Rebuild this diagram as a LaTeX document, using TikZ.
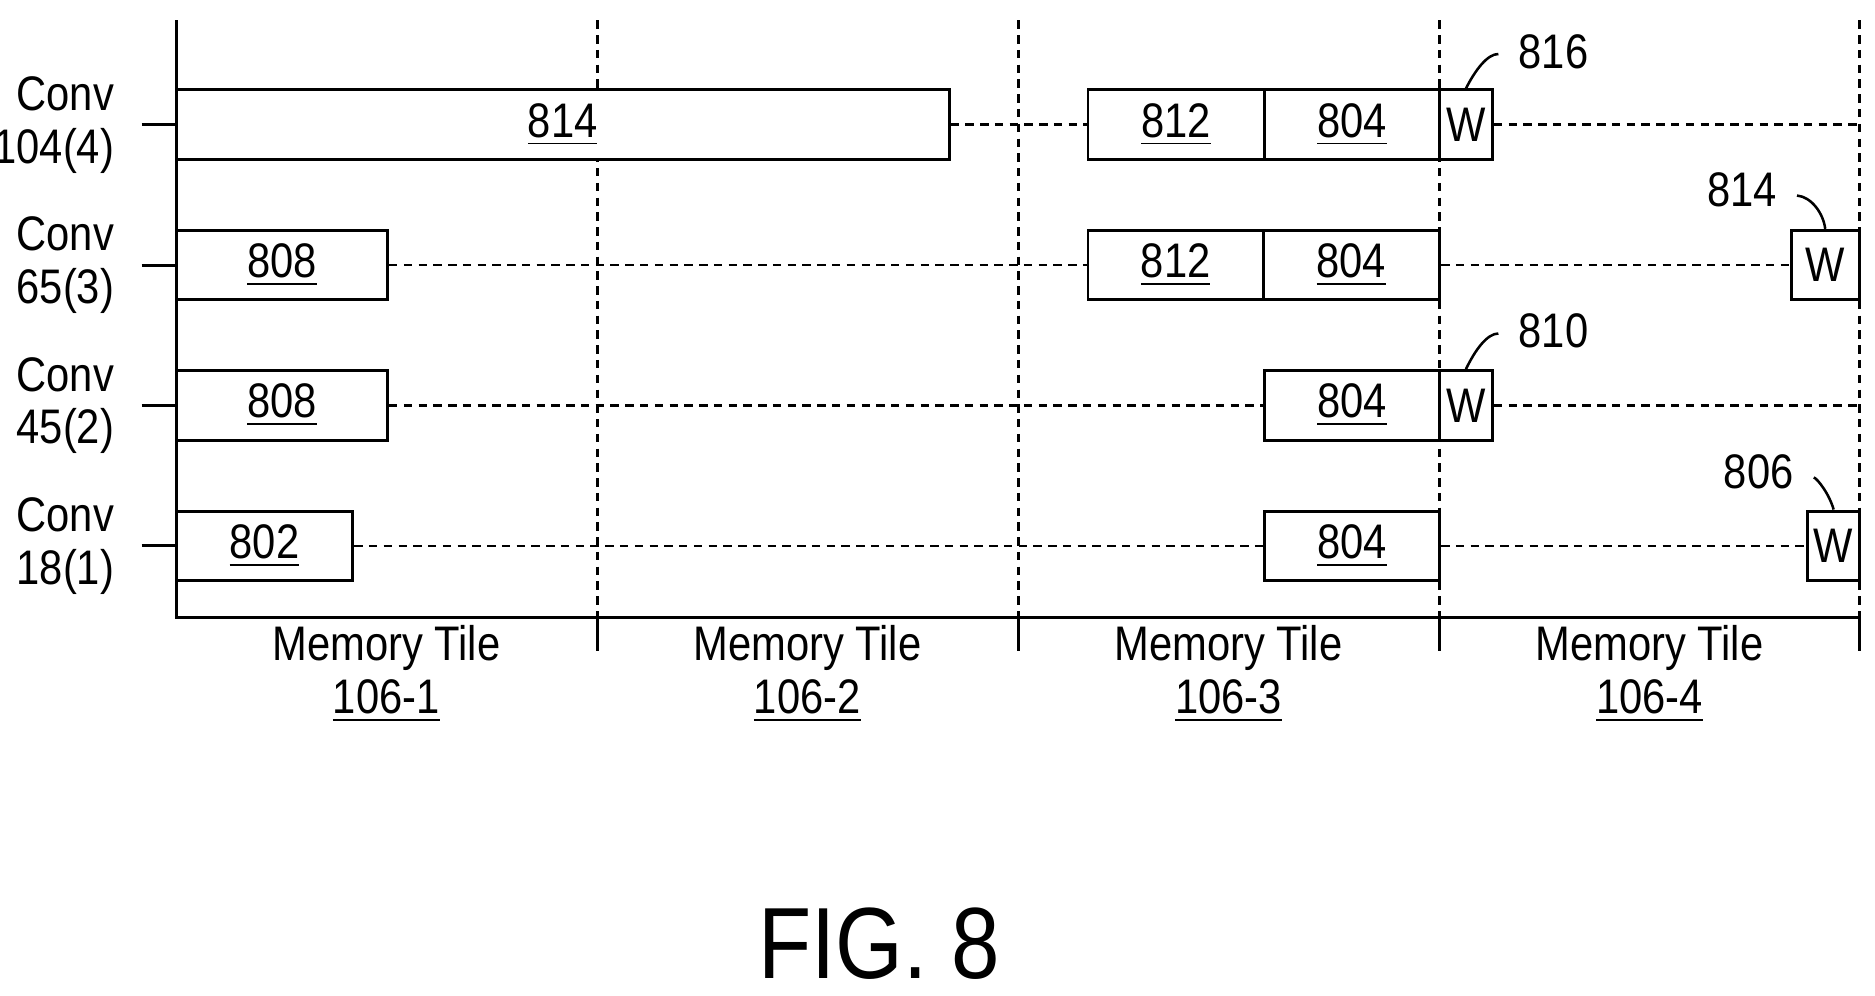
\documentclass[tikz,border=0pt]{standalone}
\usepackage{fontspec}
\setmainfont[FakeStretch=0.86]{Liberation Sans}
\usetikzlibrary{positioning}
\begin{document}
\begin{tikzpicture}[
		x=0.01cm, y=-0.01cm,
		line width=0.7pt,
		blok/.style={draw, fill=white, minimum height=0.58cm, inner sep=0pt, font=\fontsize{11.5}{13}\selectfont},
		punti/.style={line width=0.6pt, dash pattern=on 2pt off 1.5pt},
		etich/.style={font=\fontsize{11.5}{13.5}\selectfont, align=center},
		guida/.style={line width=0.6pt}
	]
	\useasboundingbox (0,0) rectangle (1563,830);
	
	% --- Assi ---
	\coordinate (top) at (147,17);
	\coordinate (O) at (147,515);
	\coordinate (end) at (1550,515);
	\foreach \x in {498,849,1200,1550} {
		\draw[punti] (\x,17) -- (\x,515);
		\draw (\x,515) -- (\x,543);
	}
	
	% --- Etichette tile ---
	\foreach \x/\n in {322/1,673/2,1024/3,1375/4}
		\node[etich] (t\n) at (\x,562) {Memory Tile\\[-1pt]\underline{106-\n}};
	
	% --- Righe ---
	\foreach \y/\c in {104/{104(4)},221/{65(3)},338/{45(2)},455/{18(1)}} {
		\draw (118,\y) -- (147,\y);
		\node[etich, left, align=right] at (108,\y) {Conv\\[-1pt]\c};
	}
	
	% riga 4
	\node[blok, minimum width=6.44cm] (a814) at (469,104) {\underline{814}};
	\node[blok, minimum width=1.47cm] (a812) at (980.5,104) {\underline{812}};
	\node[blok, minimum width=1.46cm] (a804) at (1127,104) {\underline{804}};
	\node[blok, minimum width=0.44cm] (aW) at (1222,104) {W};
	\coordinate (aE) at (1550,104);
	\draw[punti] (a814.east) -- (a812.west);
	\draw[punti] (aW.east) -- (aE);
	
	% riga 3
	\node[blok, minimum width=1.76cm] (b808) at (235,221) {\underline{808}};
	\node[blok, minimum width=1.46cm] (b812) at (980,221) {\underline{812}};
	\node[blok, minimum width=1.47cm] (b804) at (1126.5,221) {\underline{804}};
	\node[blok, minimum width=0.57cm] (bW) at (1521.5,221) {W};
	\draw[punti] (b808.east) -- (b812.west);
	\draw[punti] (b804.east) -- (bW.west);
	
	% riga 2
	\node[blok, minimum width=1.76cm] (c808) at (235,338) {\underline{808}};
	\node[blok, minimum width=1.46cm] (c804) at (1127,338) {\underline{804}};
	\node[blok, minimum width=0.44cm] (cW) at (1222,338) {W};
	\coordinate (cE) at (1550,338);
	\draw[punti] (c808.east) -- (c804.west);
	\draw[punti] (cW.east) -- (cE);
	
	% riga 1
	\node[blok, minimum width=1.47cm] (d802) at (220.5,455) {\underline{802}};
	\node[blok, minimum width=1.46cm] (d804) at (1127,455) {\underline{804}};
	\node[blok, minimum width=0.43cm] (dW) at (1528.5,455) {W};
	\draw[punti] (d802.east) -- (d804.west);
	\draw[punti] (d804.east) -- (dW.west);
	
	\draw (top) -- (O) -- (end);
	
	% --- Riferimenti W ---
	\node[etich] (r816) at (1295,43) {816};
	\node[etich] (r814) at (1452,158) {814};
	\node[etich] (r810) at (1295,276) {810};
	\node[etich] (r806) at (1466,393) {806};
	\draw[guida] (r816.west) ++(-4,2) .. controls (1240,45) and (1230,58) .. (aW.north);
	\draw[guida] (r814.east) ++(4,5) .. controls (1510,164) and (1520,178) .. (bW.north);
	\draw[guida] (r810.west) ++(-4,2) .. controls (1240,278) and (1230,291) .. (cW.north);
	\draw[guida] (r806.east) ++(4,5) .. controls (1515,399) and (1525,412) .. (dW.north);
	
	% --- Titolo ---
	\node[font=\fontsize{24}{28}\selectfont] (fig) at (733,787) {FIG. 8};
\end{tikzpicture}
\end{document}
